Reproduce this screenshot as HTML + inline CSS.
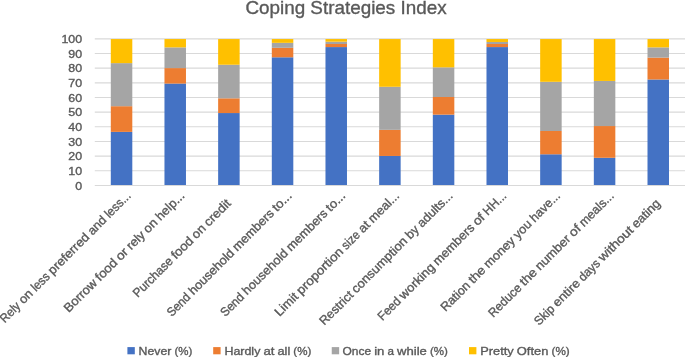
<!DOCTYPE html><html><head><meta charset="utf-8"><title>Coping Strategies Index</title>
<style>html,body{margin:0;padding:0;background:#fff}svg{display:block;will-change:transform}text{font-family:"Liberation Sans",sans-serif;fill:#595959;stroke:#595959;stroke-width:0.35px}</style></head><body>
<svg width="685" height="357" viewBox="0 0 685 357">
<rect width="685" height="357" fill="#fff"/>
<text x="245.4" y="13.9" font-size="18.4" textLength="201.2" lengthAdjust="spacingAndGlyphs">Coping Strategies Index</text>
<line x1="94.8" x2="685" y1="185.45" y2="185.45" stroke="#D9D9D9" stroke-width="1.1"/>
<text x="82.1" y="189.55" font-size="11.4" text-anchor="end" textLength="6.90" lengthAdjust="spacingAndGlyphs">0</text>
<line x1="94.8" x2="685" y1="170.79" y2="170.79" stroke="#D9D9D9" stroke-width="1.1"/>
<text x="82.1" y="174.89" font-size="11.4" text-anchor="end" textLength="13.80" lengthAdjust="spacingAndGlyphs">10</text>
<line x1="94.8" x2="685" y1="156.13" y2="156.13" stroke="#D9D9D9" stroke-width="1.1"/>
<text x="82.1" y="160.23" font-size="11.4" text-anchor="end" textLength="13.80" lengthAdjust="spacingAndGlyphs">20</text>
<line x1="94.8" x2="685" y1="141.47" y2="141.47" stroke="#D9D9D9" stroke-width="1.1"/>
<text x="82.1" y="145.57" font-size="11.4" text-anchor="end" textLength="13.80" lengthAdjust="spacingAndGlyphs">30</text>
<line x1="94.8" x2="685" y1="126.81" y2="126.81" stroke="#D9D9D9" stroke-width="1.1"/>
<text x="82.1" y="130.91" font-size="11.4" text-anchor="end" textLength="13.80" lengthAdjust="spacingAndGlyphs">40</text>
<line x1="94.8" x2="685" y1="112.15" y2="112.15" stroke="#D9D9D9" stroke-width="1.1"/>
<text x="82.1" y="116.25" font-size="11.4" text-anchor="end" textLength="13.80" lengthAdjust="spacingAndGlyphs">50</text>
<line x1="94.8" x2="685" y1="97.49" y2="97.49" stroke="#D9D9D9" stroke-width="1.1"/>
<text x="82.1" y="101.59" font-size="11.4" text-anchor="end" textLength="13.80" lengthAdjust="spacingAndGlyphs">60</text>
<line x1="94.8" x2="685" y1="82.83" y2="82.83" stroke="#D9D9D9" stroke-width="1.1"/>
<text x="82.1" y="86.93" font-size="11.4" text-anchor="end" textLength="13.80" lengthAdjust="spacingAndGlyphs">70</text>
<line x1="94.8" x2="685" y1="68.17" y2="68.17" stroke="#D9D9D9" stroke-width="1.1"/>
<text x="82.1" y="72.27" font-size="11.4" text-anchor="end" textLength="13.80" lengthAdjust="spacingAndGlyphs">80</text>
<line x1="94.8" x2="685" y1="53.51" y2="53.51" stroke="#D9D9D9" stroke-width="1.1"/>
<text x="82.1" y="57.61" font-size="11.4" text-anchor="end" textLength="13.80" lengthAdjust="spacingAndGlyphs">90</text>
<line x1="94.8" x2="685" y1="38.85" y2="38.85" stroke="#D9D9D9" stroke-width="1.1"/>
<text x="82.1" y="42.95" font-size="11.4" text-anchor="end" textLength="20.70" lengthAdjust="spacingAndGlyphs">100</text>
<rect x="110.80" y="131.87" width="21.5" height="53.13" fill="#4472C4"/>
<rect x="110.80" y="106.19" width="21.5" height="25.69" fill="#ED7D31"/>
<rect x="110.80" y="63.13" width="21.5" height="43.06" fill="#A5A5A5"/>
<rect x="110.80" y="39.05" width="21.5" height="24.08" fill="#FFC000"/>
<rect x="164.47" y="83.56" width="21.5" height="101.44" fill="#4472C4"/>
<rect x="164.47" y="68.09" width="21.5" height="15.47" fill="#ED7D31"/>
<rect x="164.47" y="47.37" width="21.5" height="20.72" fill="#A5A5A5"/>
<rect x="164.47" y="39.05" width="21.5" height="8.32" fill="#FFC000"/>
<rect x="218.14" y="113.05" width="21.5" height="71.95" fill="#4472C4"/>
<rect x="218.14" y="98.31" width="21.5" height="14.74" fill="#ED7D31"/>
<rect x="218.14" y="64.74" width="21.5" height="33.57" fill="#A5A5A5"/>
<rect x="218.14" y="39.05" width="21.5" height="25.69" fill="#FFC000"/>
<rect x="271.81" y="57.29" width="21.5" height="127.71" fill="#4472C4"/>
<rect x="271.81" y="47.81" width="21.5" height="9.49" fill="#ED7D31"/>
<rect x="271.81" y="42.84" width="21.5" height="4.96" fill="#A5A5A5"/>
<rect x="271.81" y="39.05" width="21.5" height="3.79" fill="#FFC000"/>
<rect x="325.48" y="47.08" width="21.5" height="137.92" fill="#4472C4"/>
<rect x="325.48" y="44.01" width="21.5" height="3.06" fill="#ED7D31"/>
<rect x="325.48" y="41.68" width="21.5" height="2.34" fill="#A5A5A5"/>
<rect x="325.48" y="39.05" width="21.5" height="2.63" fill="#FFC000"/>
<rect x="379.15" y="155.96" width="21.5" height="29.04" fill="#4472C4"/>
<rect x="379.15" y="129.83" width="21.5" height="26.13" fill="#ED7D31"/>
<rect x="379.15" y="86.78" width="21.5" height="43.06" fill="#A5A5A5"/>
<rect x="379.15" y="39.05" width="21.5" height="47.73" fill="#FFC000"/>
<rect x="432.82" y="114.65" width="21.5" height="70.35" fill="#4472C4"/>
<rect x="432.82" y="96.99" width="21.5" height="17.66" fill="#ED7D31"/>
<rect x="432.82" y="67.36" width="21.5" height="29.63" fill="#A5A5A5"/>
<rect x="432.82" y="39.05" width="21.5" height="28.31" fill="#FFC000"/>
<rect x="486.49" y="47.08" width="21.5" height="137.92" fill="#4472C4"/>
<rect x="486.49" y="44.01" width="21.5" height="3.06" fill="#ED7D31"/>
<rect x="486.49" y="41.97" width="21.5" height="2.04" fill="#A5A5A5"/>
<rect x="486.49" y="39.05" width="21.5" height="2.92" fill="#FFC000"/>
<rect x="540.16" y="154.28" width="21.5" height="30.72" fill="#4472C4"/>
<rect x="540.16" y="131.00" width="21.5" height="23.28" fill="#ED7D31"/>
<rect x="540.16" y="81.81" width="21.5" height="49.19" fill="#A5A5A5"/>
<rect x="540.16" y="39.05" width="21.5" height="42.76" fill="#FFC000"/>
<rect x="593.83" y="157.78" width="21.5" height="27.22" fill="#4472C4"/>
<rect x="593.83" y="126.04" width="21.5" height="31.74" fill="#ED7D31"/>
<rect x="593.83" y="80.94" width="21.5" height="45.10" fill="#A5A5A5"/>
<rect x="593.83" y="39.05" width="21.5" height="41.89" fill="#FFC000"/>
<rect x="647.50" y="79.48" width="21.5" height="105.52" fill="#4472C4"/>
<rect x="647.50" y="57.59" width="21.5" height="21.89" fill="#ED7D31"/>
<rect x="647.50" y="47.37" width="21.5" height="10.22" fill="#A5A5A5"/>
<rect x="647.50" y="39.05" width="21.5" height="8.32" fill="#FFC000"/>
<text font-size="12.4" transform="translate(131.55 196.50) rotate(-45)"><tspan x="-179.44" textLength="23.48" lengthAdjust="spacingAndGlyphs">Rely</tspan> <tspan x="-152.84" textLength="14.50" lengthAdjust="spacingAndGlyphs">on</tspan> <tspan x="-135.23" textLength="20.79" lengthAdjust="spacingAndGlyphs">less</tspan> <tspan x="-111.33" textLength="52.81" lengthAdjust="spacingAndGlyphs">preferred</tspan> <tspan x="-55.40" textLength="21.07" lengthAdjust="spacingAndGlyphs">and</tspan> <tspan x="-31.22" textLength="31.22" lengthAdjust="spacingAndGlyphs">less...</tspan></text>
<text font-size="12.4" transform="translate(185.22 196.50) rotate(-45)"><tspan x="-164.78" textLength="41.19" lengthAdjust="spacingAndGlyphs">Borrow</tspan> <tspan x="-120.48" textLength="25.68" lengthAdjust="spacingAndGlyphs">food</tspan> <tspan x="-91.69" textLength="12.06" lengthAdjust="spacingAndGlyphs">or</tspan> <tspan x="-76.51" textLength="20.87" lengthAdjust="spacingAndGlyphs">rely</tspan> <tspan x="-52.53" textLength="14.50" lengthAdjust="spacingAndGlyphs">on</tspan> <tspan x="-34.92" textLength="34.92" lengthAdjust="spacingAndGlyphs">help...</tspan></text>
<text font-size="12.4" transform="translate(231.59 204.20) rotate(-45)"><tspan x="-132.67" textLength="50.85" lengthAdjust="spacingAndGlyphs">Purchase</tspan> <tspan x="-78.71" textLength="25.68" lengthAdjust="spacingAndGlyphs">food</tspan> <tspan x="-49.92" textLength="14.50" lengthAdjust="spacingAndGlyphs">on</tspan> <tspan x="-32.31" textLength="32.31" lengthAdjust="spacingAndGlyphs">credit</tspan></text>
<text font-size="12.4" transform="translate(292.56 196.50) rotate(-45)"><tspan x="-170.94" textLength="27.65" lengthAdjust="spacingAndGlyphs">Send</tspan> <tspan x="-140.17" textLength="58.87" lengthAdjust="spacingAndGlyphs">household</tspan> <tspan x="-78.19" textLength="52.90" lengthAdjust="spacingAndGlyphs">members</tspan> <tspan x="-22.17" textLength="22.17" lengthAdjust="spacingAndGlyphs">to...</tspan></text>
<text font-size="12.4" transform="translate(346.23 196.50) rotate(-45)"><tspan x="-170.94" textLength="27.65" lengthAdjust="spacingAndGlyphs">Send</tspan> <tspan x="-140.17" textLength="58.87" lengthAdjust="spacingAndGlyphs">household</tspan> <tspan x="-78.19" textLength="52.90" lengthAdjust="spacingAndGlyphs">members</tspan> <tspan x="-22.17" textLength="22.17" lengthAdjust="spacingAndGlyphs">to...</tspan></text>
<text font-size="12.4" transform="translate(399.90 196.50) rotate(-45)"><tspan x="-170.39" textLength="27.73" lengthAdjust="spacingAndGlyphs">Limit</tspan> <tspan x="-139.55" textLength="60.55" lengthAdjust="spacingAndGlyphs">proportion</tspan> <tspan x="-75.89" textLength="20.53" lengthAdjust="spacingAndGlyphs">size</tspan> <tspan x="-52.24" textLength="11.08" lengthAdjust="spacingAndGlyphs">at</tspan> <tspan x="-38.04" textLength="38.04" lengthAdjust="spacingAndGlyphs">meal...</tspan></text>
<text font-size="12.4" transform="translate(453.57 196.50) rotate(-45)"><tspan x="-182.92" textLength="42.33" lengthAdjust="spacingAndGlyphs">Restrict</tspan> <tspan x="-137.47" textLength="73.18" lengthAdjust="spacingAndGlyphs">consumption</tspan> <tspan x="-61.18" textLength="13.40" lengthAdjust="spacingAndGlyphs">by</tspan> <tspan x="-44.66" textLength="44.66" lengthAdjust="spacingAndGlyphs">adults...</tspan></text>
<text font-size="12.4" transform="translate(507.24 196.50) rotate(-45)"><tspan x="-176.41" textLength="27.07" lengthAdjust="spacingAndGlyphs">Feed</tspan> <tspan x="-146.22" textLength="44.92" lengthAdjust="spacingAndGlyphs">working</tspan> <tspan x="-98.19" textLength="52.90" lengthAdjust="spacingAndGlyphs">members</tspan> <tspan x="-42.17" textLength="11.47" lengthAdjust="spacingAndGlyphs">of</tspan> <tspan x="-27.59" textLength="27.59" lengthAdjust="spacingAndGlyphs">HH...</tspan></text>
<text font-size="12.4" transform="translate(560.91 196.50) rotate(-45)"><tspan x="-163.33" textLength="36.12" lengthAdjust="spacingAndGlyphs">Ration</tspan> <tspan x="-124.09" textLength="18.70" lengthAdjust="spacingAndGlyphs">the</tspan> <tspan x="-102.28" textLength="38.50" lengthAdjust="spacingAndGlyphs">money</tspan> <tspan x="-60.66" textLength="20.57" lengthAdjust="spacingAndGlyphs">you</tspan> <tspan x="-36.97" textLength="36.97" lengthAdjust="spacingAndGlyphs">have...</tspan></text>
<text font-size="12.4" transform="translate(614.58 196.50) rotate(-45)"><tspan x="-171.66" textLength="41.24" lengthAdjust="spacingAndGlyphs">Reduce</tspan> <tspan x="-127.31" textLength="18.70" lengthAdjust="spacingAndGlyphs">the</tspan> <tspan x="-105.49" textLength="44.37" lengthAdjust="spacingAndGlyphs">number</tspan> <tspan x="-58.01" textLength="11.47" lengthAdjust="spacingAndGlyphs">of</tspan> <tspan x="-43.43" textLength="43.43" lengthAdjust="spacingAndGlyphs">meals...</tspan></text>
<text font-size="12.4" transform="translate(660.95 204.20) rotate(-45)"><tspan x="-172.30" textLength="22.99" lengthAdjust="spacingAndGlyphs">Skip</tspan> <tspan x="-146.20" textLength="33.11" lengthAdjust="spacingAndGlyphs">entire</tspan> <tspan x="-109.98" textLength="25.07" lengthAdjust="spacingAndGlyphs">days</tspan> <tspan x="-81.80" textLength="43.97" lengthAdjust="spacingAndGlyphs">without</tspan> <tspan x="-34.71" textLength="34.71" lengthAdjust="spacingAndGlyphs">eating</tspan></text>
<rect x="127.4" y="347.1" width="7.4" height="7.2" fill="#4472C4"/>
<text font-size="11.4" y="354.5" stroke-width="0.2"><tspan x="138.60" textLength="32.85" lengthAdjust="spacingAndGlyphs">Never</tspan> <tspan x="174.51" textLength="17.89" lengthAdjust="spacingAndGlyphs">(%)</tspan></text>
<rect x="213.2" y="347.1" width="7.4" height="7.2" fill="#ED7D31"/>
<text font-size="11.4" y="354.5" stroke-width="0.2"><tspan x="224.40" textLength="35.98" lengthAdjust="spacingAndGlyphs">Hardly</tspan> <tspan x="263.46" textLength="10.95" lengthAdjust="spacingAndGlyphs">at</tspan> <tspan x="277.48" textLength="12.76" lengthAdjust="spacingAndGlyphs">all</tspan> <tspan x="293.32" textLength="17.98" lengthAdjust="spacingAndGlyphs">(%)</tspan></text>
<rect x="331.75" y="347.1" width="7.4" height="7.2" fill="#A5A5A5"/>
<text font-size="11.4" y="354.5" stroke-width="0.2"><tspan x="342.50" textLength="28.62" lengthAdjust="spacingAndGlyphs">Once</tspan> <tspan x="374.18" textLength="10.25" lengthAdjust="spacingAndGlyphs">in</tspan> <tspan x="387.50" textLength="6.50" lengthAdjust="spacingAndGlyphs">a</tspan> <tspan x="397.07" textLength="29.82" lengthAdjust="spacingAndGlyphs">while</tspan> <tspan x="429.96" textLength="17.94" lengthAdjust="spacingAndGlyphs">(%)</tspan></text>
<rect x="469.0" y="347.1" width="7.4" height="7.2" fill="#FFC000"/>
<text font-size="11.4" y="354.5" stroke-width="0.2"><tspan x="480.20" textLength="33.50" lengthAdjust="spacingAndGlyphs">Pretty</tspan> <tspan x="516.82" textLength="31.56" lengthAdjust="spacingAndGlyphs">Often</tspan> <tspan x="551.49" textLength="18.21" lengthAdjust="spacingAndGlyphs">(%)</tspan></text>
</svg></body></html>
